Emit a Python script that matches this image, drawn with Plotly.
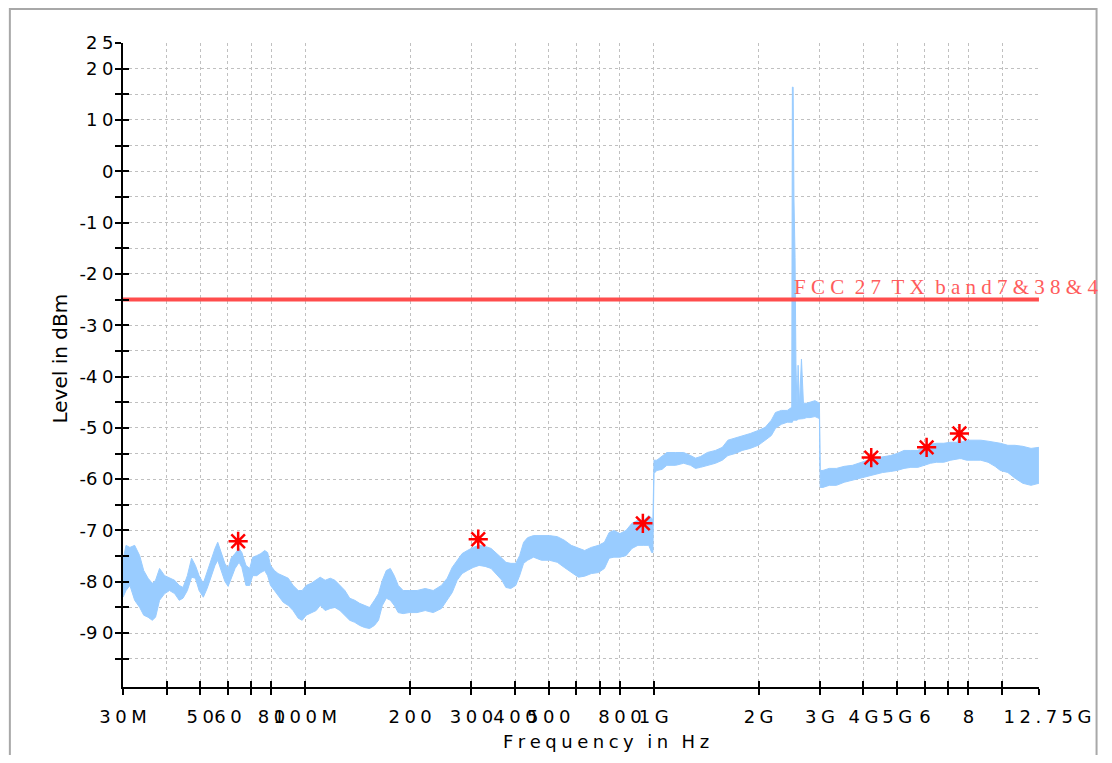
import math
import plotly.graph_objects as go

# ---------------- data ----------------
freq_mhz = [
    30.0, 30.6, 31.4, 32.4, 33.5, 34.4, 35.4, 36.4, 37.2, 38.2,
    39.5, 40.8, 42.2, 43.5, 44.6, 45.9, 47.2, 48.4, 49.6, 51.0,
    52.3, 53.6, 55.1, 56.1, 57.2, 58.8, 60.1, 61.3, 62.9, 64.6,
    65.8, 67.6, 69.3, 70.7, 72.6, 74.6, 76.5, 78.0, 79.5, 81.6,
    83.6, 86.5, 89.4, 92.3, 95.5, 98.0, 100.7, 104.0, 107.5, 110.4,
    114.1, 118.0, 121.7, 125.8, 130.0, 134.2, 138.7, 143.3, 148.0, 153.0,
    158.0, 162.3, 166.5, 170.9, 175.5, 180.1, 184.9, 191.0, 198.7, 209.4,
    221.0, 233.0, 246.0, 255.6, 264.1, 273.0, 282.0, 291.9, 303.5, 315.6,
    328.3, 341.5, 352.7, 366.8, 376.6, 389.0, 401.9, 412.4, 423.4, 434.6,
    452.0, 476.3, 502.0, 529.0, 554.0, 580.0, 608.0, 633.7, 662.0, 694.0,
    722.0, 745.0, 769.0, 800.0, 833.0, 866.0, 901.0, 937.0, 968.0, 987.0,
    995.0, 1002.0, 1021.0, 1056.0, 1091.0, 1156.0, 1219.0, 1276.0, 1318.0, 1362.0,
    1426.0, 1504.0, 1574.0, 1633.0, 1714.0, 1795.0, 1893.0, 1996.0, 2090.0, 2176.0,
    2236.0, 2325.0, 2418.0, 2465.0, 2490.0, 2500.0, 2513.0, 2527.0, 2545.0, 2560.0,
    2578.0, 2597.0, 2620.0, 2655.0, 2690.0, 2750.0, 2810.0, 2903.0, 2990.0, 3005.0,
    3060.0, 3190.0, 3345.0, 3522.0, 3720.0, 3920.0, 4110.0, 4310.0, 4540.0, 4780.0,
    4990.0, 5230.0, 5470.0, 5730.0, 5960.0, 6230.0, 6480.0, 6800.0, 7120.0, 7450.0,
    7540.0, 7630.0, 7900.0, 8250.0, 8680.0, 9110.0, 9540.0, 9880.0, 10380.0, 10880.0,
    11460.0, 12100.0, 12750.0,
]

# upper edge of the measured trace (dBm)
upper_dbm = [
    -75.8, -72.9, -73.3, -72.9, -74.9, -77.8, -79.3, -80.3, -79.7, -77.4,
    -78.8, -79.3, -79.7, -80.7, -81.1, -78.8, -75.4, -76.8, -78.8, -80.3,
    -78.0, -76.2, -73.5, -72.3, -73.9, -76.4, -77.4, -75.4, -74.5, -73.5,
    -74.3, -76.8, -77.4, -75.2, -74.9, -74.5, -73.9, -74.3, -76.8, -77.8,
    -78.4, -78.8, -79.3, -80.7, -81.7, -81.7, -80.7, -80.3, -79.7, -79.1,
    -79.7, -79.3, -79.7, -80.7, -81.7, -83.2, -83.6, -84.2, -84.6, -85.0,
    -83.6, -82.3, -79.7, -77.8, -77.4, -78.8, -80.7, -81.7, -81.7, -81.7,
    -81.3, -81.7, -80.7, -79.3, -77.2, -75.8, -74.5, -73.9, -73.3, -72.9,
    -73.1, -73.5, -74.3, -75.4, -76.2, -76.4, -76.4, -74.9, -72.3, -71.4,
    -71.0, -71.0, -71.0, -71.2, -71.9, -72.9, -73.5, -73.9, -73.3, -72.9,
    -72.3, -70.4, -70.0, -70.6, -70.0, -68.6, -68.0, -68.0, -67.1, -67.6,
    -68.0, -56.3, -56.3, -55.6, -54.8, -54.8, -54.8, -55.4, -55.9, -55.6,
    -54.8, -54.4, -53.8, -52.4, -52.0, -51.5, -51.1, -50.5, -49.9, -48.5,
    -47.0, -46.6, -46.6, -46.2, -46.0, 16.4, 16.4, -5.6, -16.8, -37.5,
    -46.0, -37.8, -45.6, -36.6, -45.2, -45.2, -45.0, -44.7, -45.2, -58.3,
    -58.3, -57.9, -57.9, -57.5, -57.3, -56.7, -56.3, -55.9, -55.6, -55.4,
    -55.0, -54.4, -54.4, -54.4, -53.6, -53.2, -53.0, -53.0, -52.8, -52.8,
    -51.0, -52.8, -52.4, -52.4, -52.4, -52.6, -52.8, -53.0, -53.4, -53.4,
    -53.6, -54.0, -53.8,
]

# lower edge of the measured trace (dBm)
lower_dbm = [
    -83.0, -81.7, -80.7, -83.6, -85.0, -86.5, -86.9, -87.5, -86.9, -83.6,
    -82.3, -81.7, -82.3, -83.6, -83.2, -81.7, -79.1, -79.3, -81.7, -83.0,
    -81.3, -79.3, -76.8, -75.8, -77.6, -79.9, -80.9, -79.3, -77.4, -76.2,
    -77.2, -80.7, -80.7, -78.8, -78.8, -78.2, -77.8, -78.8, -80.7, -81.7,
    -82.7, -84.0, -84.6, -85.6, -87.1, -87.5, -86.5, -86.0, -85.6, -84.6,
    -85.6, -85.2, -85.0, -85.6, -86.5, -87.5, -87.9, -88.5, -88.9, -89.1,
    -88.5, -87.5, -84.6, -83.2, -83.6, -84.6, -86.0, -86.2, -86.0, -86.0,
    -85.6, -86.0, -85.2, -83.6, -82.1, -79.7, -78.4, -77.8, -77.2, -76.8,
    -77.0, -77.4, -78.4, -79.7, -81.1, -81.3, -80.7, -78.8, -76.4, -75.8,
    -75.2, -75.8, -75.8, -76.2, -77.2, -78.2, -79.1, -78.9, -78.4, -78.2,
    -77.4, -75.4, -75.2, -75.2, -74.9, -73.5, -72.9, -72.9, -72.9, -74.3,
    -74.3, -58.9, -58.3, -58.1, -57.3, -57.3, -56.9, -57.3, -57.9, -57.7,
    -57.3, -56.9, -56.3, -55.4, -55.0, -54.4, -54.0, -53.4, -52.4, -51.5,
    -50.1, -49.3, -48.9, -48.9, -48.9, -48.9, -48.5, -48.5, -48.5, -48.5,
    -48.5, -48.3, -48.3, -48.2, -48.2, -48.0, -48.0, -47.8, -48.2, -61.6,
    -61.6, -61.2, -61.2, -60.6, -60.2, -59.8, -59.5, -59.1, -58.7, -58.5,
    -58.3, -57.9, -57.7, -57.7, -57.3, -56.9, -56.7, -56.7, -56.3, -56.0,
    -56.0, -56.0, -56.3, -56.3, -56.3, -56.7, -57.5, -58.3, -58.7, -59.8,
    -60.8, -61.2, -60.8,
]

peak_freq_mhz = [64.2, 313.7, 931.0, 4210.0, 6070.0, 7540.0]
peak_dbm = [-72.1, -71.7, -68.6, -55.8, -53.8, -51.1]

limit_dbm = -25.0
limit_label = "FCC 27 TX band7&38&4"

x_tick_vals = [30, 40, 50, 60, 70, 80, 100, 200, 300, 400, 500, 600, 700, 800,
               1000, 2000, 3000, 4000, 5000, 6000, 7000, 8000, 10000, 12750]
x_tick_text = ["30M", "", "50", "60", "", "80", "100M", "200", "300", "400", "500",
               "", "", "800", "1G", "2G", "3G", "4G", "5G", "6", "", "8", "", "12.75G"]

y_tick_vals = [25, 20, 15, 10, 5, 0, -5, -10, -15, -20, -25, -30, -35, -40, -45,
               -50, -55, -60, -65, -70, -75, -80, -85, -90, -95]
y_tick_text = ["25", "20", "", "10", "", "0", "", "-10", "", "-20", "", "-30", "",
               "-40", "", "-50", "", "-60", "", "-70", "", "-80", "", "-90", ""]

x_title = "Frequency in Hz"
y_title = "Level in dBm"

# ---------------- layout geometry (page pixels) ----------------
OFF = 8                      # default page margin around the figure
W, H = 1112 - 2 * OFF, 763 - 2 * OFF
PL, PR, PT, PB = 123, 1046, 43, 687      # plot area on the page
ML, MR, MT, MB = PL - OFF, W - (PR - OFF), PT - OFF, H - (PB - OFF)
PW, PH = PR - PL, PB - PT
NB = "\u00a0"
G4 = "\u2005"   # four-per-em space


def spaced(s, gap=NB, word_gap=None):
    if word_gap is None:
        word_gap = gap * 2
    return word_gap.join(gap.join(w) for w in s.split(" "))


def spaced_num(s):
    if s.startswith("-"):
        return "-" + spaced(s[1:], G4)
    return spaced(s, G4)


def px(xp):
    return (xp - PL) / PW


def py(yp):
    return (PB - yp) / PH


x_range = [math.log10(30), math.log10(12750) + 0.0002]
y_range = [-100.5, 25]

sans = "DejaVu Sans, Verdana, sans-serif"
tick_font = dict(family=sans, size=18, color="#000000")
trace_col = "#99ccff"

fig = go.Figure()

fig.add_trace(go.Scatter(x=freq_mhz, y=lower_dbm, mode="lines",
                         line=dict(color=trace_col, width=1), hoverinfo="skip",
                         showlegend=False))
fig.add_trace(go.Scatter(x=freq_mhz, y=upper_dbm, mode="lines", fill="tonexty",
                         fillcolor=trace_col, line=dict(color=trace_col, width=1),
                         showlegend=False))

fig.add_trace(go.Scatter(x=[freq_mhz[0], freq_mhz[-1]], y=[limit_dbm, limit_dbm],
                         mode="lines", line=dict(color="#ff4d4d", width=4),
                         showlegend=False))

fig.add_trace(go.Scatter(x=peak_freq_mhz, y=peak_dbm, mode="markers",
                         marker=dict(symbol="asterisk-open", size=16, color="#ff0000",
                                     line=dict(color="#ff0000", width=2.5)),
                         showlegend=False))

# dummy trace for the overlay axes (inside halves of the ticks)
fig.add_trace(go.Scatter(x=[30, 12750], y=[None, None], xaxis="x2", yaxis="y2",
                         mode="lines", showlegend=False, hoverinfo="skip"))

x_text = []
for t in x_tick_text:
    if t == "12.75G":
        x_text.append(NB * 3 + spaced(t, G4))
    else:
        x_text.append(spaced(t, G4))

fig.update_layout(
    width=W, height=H,
    margin=dict(l=ML, r=MR, t=MT, b=MB, pad=0),
    paper_bgcolor="white", plot_bgcolor="white",
    xaxis=dict(type="log", range=x_range, tickmode="array", tickvals=x_tick_vals,
               ticktext=x_text, tickangle=0, ticks="outside", ticklen=6, tickwidth=2,
               tickcolor="black", showline=True, linecolor="black", linewidth=2,
               showgrid=True, gridcolor="#c0c0c0", griddash="dot", gridwidth=1,
               zeroline=False, tickfont=tick_font, ticklabelstandoff=6),
    yaxis=dict(range=y_range, tickmode="array", tickvals=y_tick_vals,
               ticktext=[spaced_num(t) for t in y_tick_text], ticks="outside",
               ticklen=6, tickwidth=2, tickcolor="black", showline=True,
               linecolor="black", linewidth=2, showgrid=True, gridcolor="#c0c0c0",
               griddash="dot", gridwidth=1, zeroline=False, tickfont=tick_font,
               ticklabelstandoff=-2),
    xaxis2=dict(type="log", range=x_range, overlaying="x", tickmode="array",
                tickvals=x_tick_vals, showticklabels=False, ticks="inside", ticklen=6,
                tickwidth=2, tickcolor="black", showgrid=False, showline=False,
                zeroline=False, anchor="y2", side="bottom"),
    yaxis2=dict(range=y_range, overlaying="y", tickmode="array", tickvals=y_tick_vals,
                showticklabels=False, ticks="inside", ticklen=6, tickwidth=2,
                tickcolor="black", showgrid=False, showline=False, zeroline=False,
                anchor="x2", side="left"),
    showlegend=False,
)

fig.add_annotation(text=spaced(limit_label).replace("&", "&amp;"),
                   xref="paper", yref="paper", x=px(797), y=py(300.5),
                   xanchor="left", yanchor="bottom", showarrow=False,
                   font=dict(family="Liberation Serif, Times New Roman, serif", size=21,
                             color="#ff5c5c"))

fig.add_annotation(text=spaced(x_title, G4, G4 * 3), xref="paper", yref="paper",
                   x=px(610), y=py(741), xanchor="center", yanchor="middle",
                   showarrow=False, font=dict(family=sans, size=18, color="black"))

fig.add_annotation(text=y_title, xref="paper", yref="paper", x=px(60), y=py(358),
                   xanchor="center", yanchor="middle", textangle=-90, showarrow=False,
                   font=dict(family=sans, size=20, color="black"))

# outer frame of the picture
fig.add_shape(type="rect", xref="paper", yref="paper", x0=px(OFF + 1), x1=px(1104),
              y0=py(775), y1=py(OFF + 1), line=dict(color="#a8a8a8", width=2),
              fillcolor="rgba(0,0,0,0)", layer="below")

fig.write_html("out.html")
